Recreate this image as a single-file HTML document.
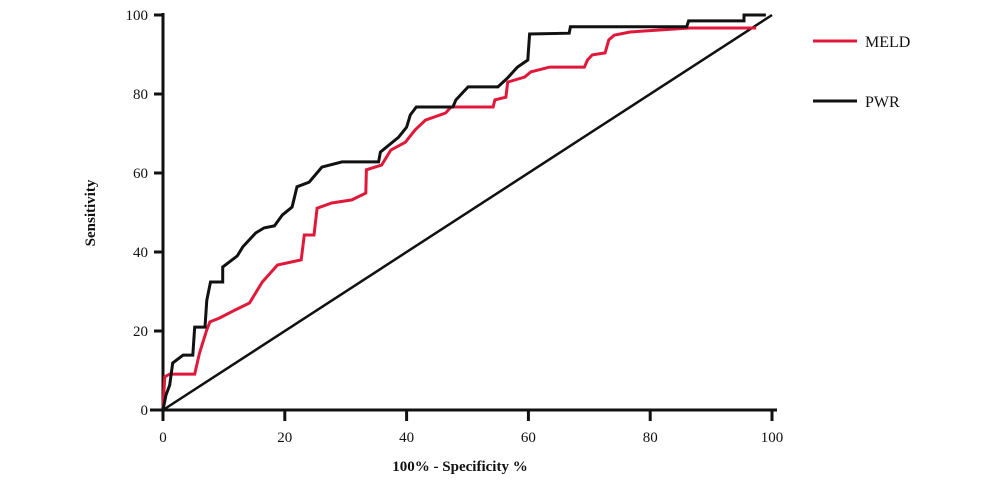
<!DOCTYPE html>
<html><head><meta charset="utf-8"><style>
html,body{margin:0;padding:0;background:#fff;}
svg{display:block;}
text{font-family:"Liberation Serif",serif;fill:#111;}
</style></head><body>
<svg width="1000" height="483" viewBox="0 0 1000 483">
<g id="axes"></g>
<g id="series"></g>
<g>
  <line x1="813" y1="41" x2="857" y2="41" stroke="#e0183a" stroke-width="3"/>
  <text x="865" y="47" font-size="16">MELD</text>
  <line x1="813" y1="101" x2="857" y2="101" stroke="#111" stroke-width="3"/>
  <text x="865" y="107" font-size="16">PWR</text>
</g>
<text transform="translate(95,213) rotate(-90)" text-anchor="middle" font-size="15" font-weight="bold">Sensitivity</text>
<text x="460" y="471" text-anchor="middle" font-size="15" font-weight="bold">100% - Specificity %</text>
</svg>
<script>
const xTicks=[0,20,40,60,80,100];
const yTicks=[0,20,40,60,80,100];
const pwrX=[0,0.5,1.1,1.6,3.3,4.9,5.2,6.9,7.2,7.8,9.8,9.8,12.2,13.1,15.2,16.6,18.3,19.6,21.2,22,24,26.1,29.4,35.4,35.7,38.7,40,40.6,41.6,47.6,48.1,50.1,55,56.6,58.2,59.9,60.2,66.7,66.9,86,86.3,95.4,95.4,99];
const pwrY=[0,3.8,6.3,11.9,13.9,13.9,21,21,27.8,32.4,32.4,36.2,39,41.3,44.8,46.1,46.6,49.4,51.4,56.5,57.7,61.5,62.8,62.8,65.3,69.1,71.6,74.7,76.7,76.7,78.5,81.8,81.8,84.1,86.8,88.6,95.2,95.4,97,97,98.5,98.5,100,100];
const meldX=[0,0.3,1.1,5.2,6,7.2,7.7,9.3,11.8,14.2,16.3,18.8,22.7,23.2,24.8,25.3,27.7,31,33.3,33.4,35.9,37.4,39.8,41.4,43.1,46.4,47.3,54.2,54.5,56.3,56.6,59.4,60.4,63.5,69.2,69.7,70.5,72.6,73.2,74.1,76.7,86.5,97.4];
const meldY=[0.8,8.4,9.1,9.1,14.4,20.3,22.3,23.3,25.3,27.1,32.4,36.7,38,44.3,44.3,51.1,52.4,53.2,54.9,60.8,62,65.8,67.8,70.9,73.4,75.2,76.7,76.7,78.5,79.2,83,84.3,85.6,86.8,86.8,88.6,89.9,90.4,93.7,94.9,95.7,96.7,96.7];
const refX=[0,100];
const refY=[0,100];
const NS='http://www.w3.org/2000/svg';
const sx=v=>163+v*6.09;
const sy=v=>410-v*3.95;
const axes=document.getElementById('axes');
const ser=document.getElementById('series');
function mk(tag,attrs,parent){const e=document.createElementNS(NS,tag);for(const k in attrs)e.setAttribute(k,attrs[k]);parent.appendChild(e);return e;}
let l=mk('line',{x1:150,y1:410,x2:777,y2:410,stroke:'#111','stroke-width':3},axes);


l=mk('line',{x1:163,y1:13,x2:163,y2:421,stroke:'#111','stroke-width':3},axes);


xTicks.forEach(t=>{
  const tk=mk('line',{x1:sx(t),y1:410,x2:sx(t),y2:421,stroke:'#111','stroke-width':3},axes);
  
  
  const tx=mk('text',{x:sx(t),y:442,'text-anchor':'middle','font-size':15},axes);
  tx.textContent=t;
  
  
});
yTicks.forEach(t=>{
  const tk=mk('line',{x1:154,y1:sy(t),x2:163,y2:sy(t),stroke:'#111','stroke-width':3},axes);
  
  
  const tx=mk('text',{x:148,y:sy(t)+5,'text-anchor':'end','font-size':15},axes);
  tx.textContent=t;
  
  
});
function pts(X,Y){return X.map((x,i)=>sx(x).toFixed(1)+','+sy(Y[i]).toFixed(1)).join(' ');}
let p=mk('polyline',{points:pts(refX,refY),fill:'none',stroke:'#111','stroke-width':2.5},ser);


p=mk('polyline',{points:pts(meldX,meldY),fill:'none',stroke:'#e0183a','stroke-width':3,'stroke-linejoin':'miter'},ser);


p=mk('polyline',{points:pts(pwrX,pwrY),fill:'none',stroke:'#111','stroke-width':3,'stroke-linejoin':'miter'},ser);


</script>
</body></html>
